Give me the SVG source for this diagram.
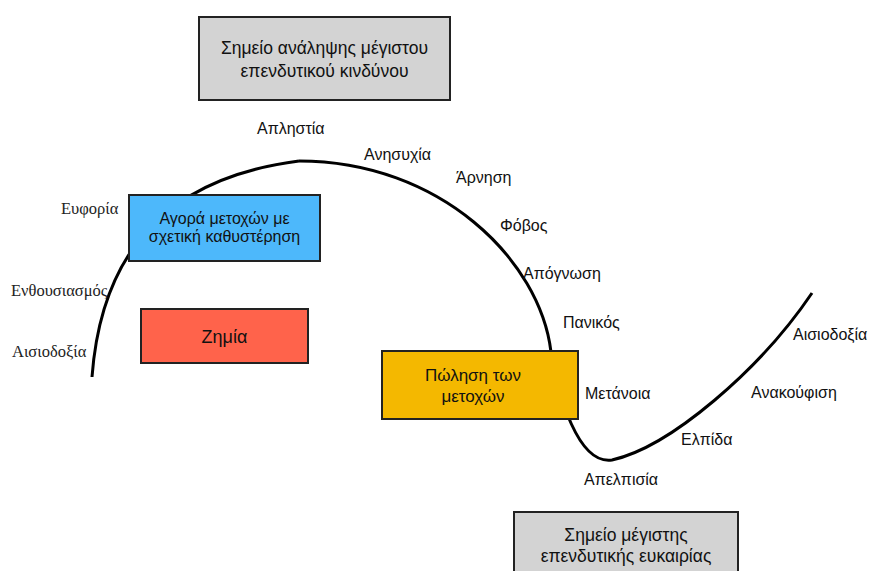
<svg xmlns="http://www.w3.org/2000/svg" width="871" height="571" viewBox="0 0 871 571">
<style>
.box{stroke:#222;stroke-width:2}
.t{font-family:"Liberation Sans",Arial,sans-serif;font-size:17.5px;fill:#111;text-anchor:middle}
.lb{font-family:"Liberation Sans",Arial,sans-serif;font-size:16px;fill:#111}
.sf{font-family:"Liberation Serif","Times New Roman",serif;font-size:16.5px;fill:#222}
.curve{fill:none;stroke:#000;stroke-width:3}
</style>
<rect width="871" height="571" fill="#fff"/>
<g id="connectors">
<path class="curve" d="M92,377 C100,270 150,180 299,161"/>
<path class="curve" d="M299,161 C440,161 540,260 551,352 C558,395 578,465 612,460 C670,447 760,370 812,293"/>
</g>
<g id="n-top">
<rect class="box" x="199" y="17" width="251" height="83" fill="#d3d3d3"/>
<text class="t" x="324.5" y="54">Σημείο ανάληψης μέγιστου</text>
<text class="t" x="324.5" y="77">επενδυτικού κινδύνου</text>
</g>
<g id="n-buy">
<rect class="box" x="129" y="195" width="191" height="66" fill="#4db8fb"/>
<text class="t" x="224.5" y="224" style="font-size:16px">Αγορά μετοχών με</text>
<text class="t" x="224.5" y="242" style="font-size:16px">σχετική καθυστέρηση</text>
</g>
<g id="n-loss">
<rect class="box" x="141" y="309" width="167" height="54" fill="#ff634b"/>
<text class="t" x="224.5" y="343" style="font-size:18px">Ζημία</text>
</g>
<g id="n-sell">
<rect class="box" x="382" y="351" width="196" height="68" fill="#f4b800"/>
<text class="t" x="473" y="381" style="font-size:17px">Πώληση των</text>
<text class="t" x="473" y="402" style="font-size:17px">μετοχών</text>
</g>
<g id="n-bottom">
<rect class="box" x="514" y="512" width="224" height="70" fill="#d3d3d3"/>
<text class="t" x="626" y="541">Σημείο μέγιστης</text>
<text class="t" x="626" y="562">επενδυτικής ευκαιρίας</text>
</g>
<g id="labels">
<text class="lb" x="257" y="134">Απληστία</text>
<text class="lb" x="364" y="160">Ανησυχία</text>
<text class="lb" x="456" y="183">Άρνηση</text>
<text class="lb" x="500" y="231">Φόβος</text>
<text class="lb" x="523" y="279">Απόγνωση</text>
<text class="lb" x="563" y="328">Πανικός</text>
<text class="lb" x="585" y="399">Μετάνοια</text>
<text class="lb" x="584" y="485">Απελπισία</text>
<text class="lb" x="681" y="445">Ελπίδα</text>
<text class="lb" x="751" y="398">Ανακούφιση</text>
<text class="lb" x="793" y="340">Αισιοδοξία</text>
<text class="sf" x="61" y="214">Ευφορία</text>
<text class="sf" x="11" y="296">Ενθουσιασμός</text>
<text class="sf" x="12" y="357">Αισιοδοξία</text>
</g>
</svg>
